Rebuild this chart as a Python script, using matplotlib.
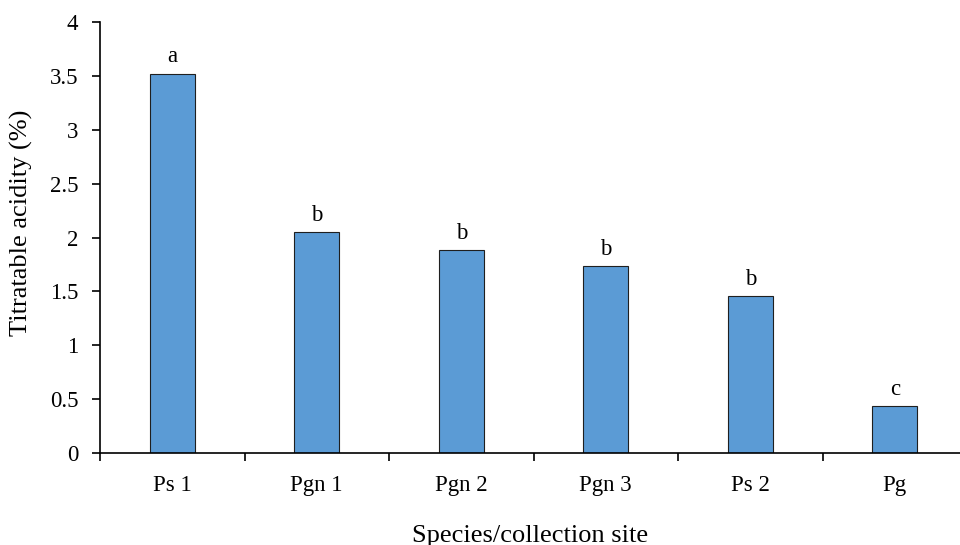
import matplotlib.pyplot as plt
import numpy as np

categories = ['Ps 1', 'Pgn 1', 'Pgn 2', 'Pgn 3', 'Ps 2', 'Pg']
acidity = [3.52, 2.05, 1.88, 1.735, 1.455, 0.435]
letters = ['a', 'b', 'b', 'b', 'b', 'c']

plt.rcParams['font.family'] = ['Liberation Serif', 'DejaVu Serif']

W, H = 960, 545
fig = plt.figure(figsize=(W / 100, H / 100), dpi=100)
ax = fig.add_axes([100 / W, (H - 453) / H, 860 / W, (453 - 22) / H])

x = np.arange(len(categories))
ax.bar(x, acidity, width=0.31, color='#5B9BD5', edgecolor='#1f1f1f', linewidth=0.8)
for xi, v, l in zip(x, acidity, letters):
    ax.text(xi, v + 0.06, l, ha='center', va='bottom', fontsize=16.5)

ax.set_yticks(np.arange(0, 4.01, 0.5))
ax.set_yticklabels(['0', '0.5', '1', '1.5', '2', '2.5', '3', '3.5', '4'])
ax.set_xticks(x)
ax.set_xticklabels(categories)
ax.set_xticks(np.arange(-0.5, 5.6, 1), minor=True)
ax.set_xlim(-0.5, 860 / 144.5 - 0.5)
ax.set_ylim(0, 4)
ax.tick_params(axis='x', which='major', length=0, pad=15.5, labelsize=16.5)
ax.tick_params(axis='x', which='minor', length=6, width=1.2, direction='out')
ax.tick_params(axis='y', length=6, width=1.2, direction='out', labelsize=16.5, pad=9.5)

for s in ['top', 'right']:
    ax.spines[s].set_visible(False)
for s in ['left', 'bottom']:
    ax.spines[s].set_linewidth(1.2)

ax.set_ylabel('Titratable acidity (%)', fontsize=19)
ax.yaxis.set_label_coords(-0.078, 0.534)
ax.set_xlabel('Species/collection site', fontsize=19, labelpad=21)

fig.savefig('out.png', dpi=100)
